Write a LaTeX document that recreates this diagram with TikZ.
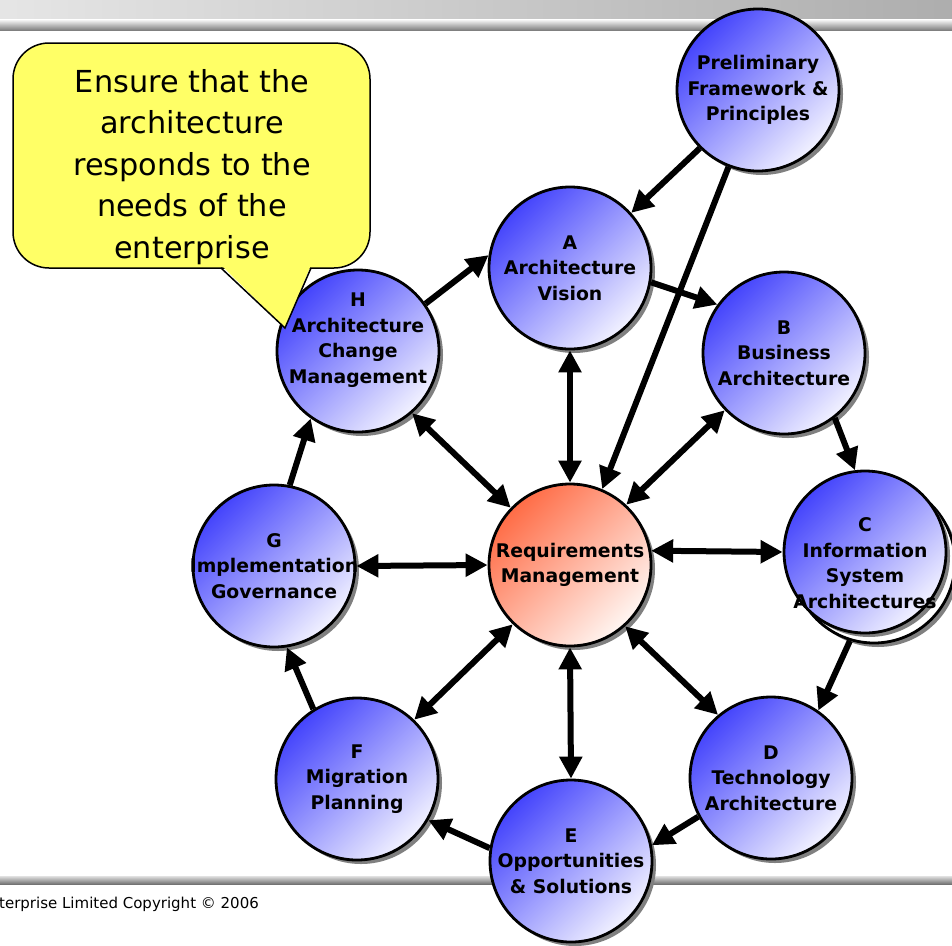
\documentclass[tikz,border=0pt]{standalone}
\usepackage{fontspec}
\setmainfont{DejaVu Sans}
\usetikzlibrary{arrows.meta,shadows}
\definecolor{phasedark}{RGB}{68,68,252}
\definecolor{phaselight}{RGB}{242,242,255}
\definecolor{reqdark}{RGB}{255,108,70}
\definecolor{reqlight}{RGB}{255,246,242}
\definecolor{noteyellow}{RGB}{255,255,102}
\tikzset{
  phase/.style={circle, draw=black, line width=2.8pt, minimum size=162pt, inner sep=0pt,
    top color=phasedark, bottom color=phaselight, shading angle=45,
    drop shadow={shadow xshift=4pt, shadow yshift=-4pt, fill=black!50, opacity=1}},
  reqs/.style={phase, top color=reqdark, bottom color=reqlight, shading angle=45},
  lbl/.style={align=center, font=\fontsize{18.8}{25.5}\selectfont\bfseries, inner sep=0pt},
  arr/.style={line width=6pt, -{Triangle[length=22pt,width=22pt]}},
  dblarr/.style={line width=6pt, {Triangle[length=22pt,width=22pt]}-{Triangle[length=22pt,width=22pt]}},
  callout/.style={draw=black, line width=1.5pt, fill=noteyellow, rounded corners=36pt,
    minimum width=357pt, minimum height=225pt},
  notetext/.style={align=center, inner sep=0pt, font=\fontsize{30.3}{41.5}\selectfont}
}
\begin{document}
\begin{tikzpicture}[x=1pt,y=-1pt]
			\useasboundingbox (0,0) rectangle (952,945);
			
			% header and footer bars
			\shade[left color=black!10, right color=black!32] (0,0) rectangle (952,19);
			\shade[top color=white, bottom color=black!50] (0,19) rectangle (952,30);
			\shade[top color=black!12, bottom color=black!55] (0,876) rectangle (952,884);
			\node[anchor=west, font=\fontsize{15}{18}\selectfont, inner sep=0pt] (copy) at (-1,904) {terprise Limited Copyright © 2006};
			
			% phases
			\node[phase] (pre) at (758,90) {};
			\node[phase] (a) at (570,268) {};
			\node[phase] (b) at (784,353) {};
			\node[phase, top color=white, bottom color=white] (cback) at (874,562) {};
			\node[phase] (c) at (865,552) {};
			\node[phase] (d) at (771,778) {};
			\node[phase] (e) at (571,861) {};
			\node[phase] (f) at (357,779) {};
			\node[phase] (g) at (274,566) {};
			\node[phase] (h) at (358,351) {};
			\node[reqs] (req) at (570,565) {};
			
			\node[lbl] (pretext) at (pre) {Preliminary\\Framework \&\\Principles};
			\node[lbl] (atext) at (a) {A\\Architecture\\Vision};
			\node[lbl] (btext) at (b) {B\\Business\\Architecture};
			\node[lbl] (ctext) at ([yshift=-11pt]c.center) {C\\Information\\System\\Architectures};
			\node[lbl] (dtext) at (d) {D\\Technology\\Architecture};
			\node[lbl] (etext) at (e) {E\\Opportunities\\\& Solutions};
			\node[lbl] (ftext) at (f) {F\\Migration\\Planning};
			\node[lbl] (gtext) at (g) {G\\Implementation\\Governance};
			\node[lbl] (htext) at ([yshift=11pt]h.center) {H\\Architecture\\Change\\Management};
			\node[lbl] (reqtext) at (req) {Requirements\\Management};
			
			% cycle
			\draw[arr] (pre.-135) -- (a.42);
			\draw[arr] (pre.-111) -- (req.67);
			\draw[arr] (h.35) -- (a.171);
			\draw[arr] (a.-10) -- (b.144);
			\draw[arr] (b.-52) -- (c.97);
			\draw[arr] (cback.-107) -- (d.55);
			\draw[arr] (d.-152) -- (e.11);
			\draw[arr] (e.171) -- (f.-30);
			\draw[arr] (f.122) -- (g.-81);
			\draw[arr] (g.79) -- (h.-125);
			
			% to and from requirements
			\draw[dblarr] (a) -- (req);
			\draw[dblarr] (b.-136) -- (req.47);
			\draw[dblarr] (c.180) -- (req.10);
			\draw[dblarr] (req.-48) -- (d.130);
			\draw[dblarr] (req.-90) -- (e.90);
			\draw[dblarr] (req.-134) -- (f.46);
			\draw[dblarr] (g.0) -- (req.180);
			\draw[dblarr] (h.-49) -- (req.136);
			
			% callout
			\node[callout] (note) at (191.5,155.5) {};
			\coordinate (tip) at (285,328);
			\fill[noteyellow] (221,265) -- (tip) -- (311,265) -- cycle;
			\draw[line width=1.5pt, line join=miter] (221,268) -- (tip) -- (311,268);
			\node[notetext] (notetext) at (192,167) {Ensure that the\\architecture\\responds to the\\needs of the\\enterprise};
\end{tikzpicture}
\end{document}
